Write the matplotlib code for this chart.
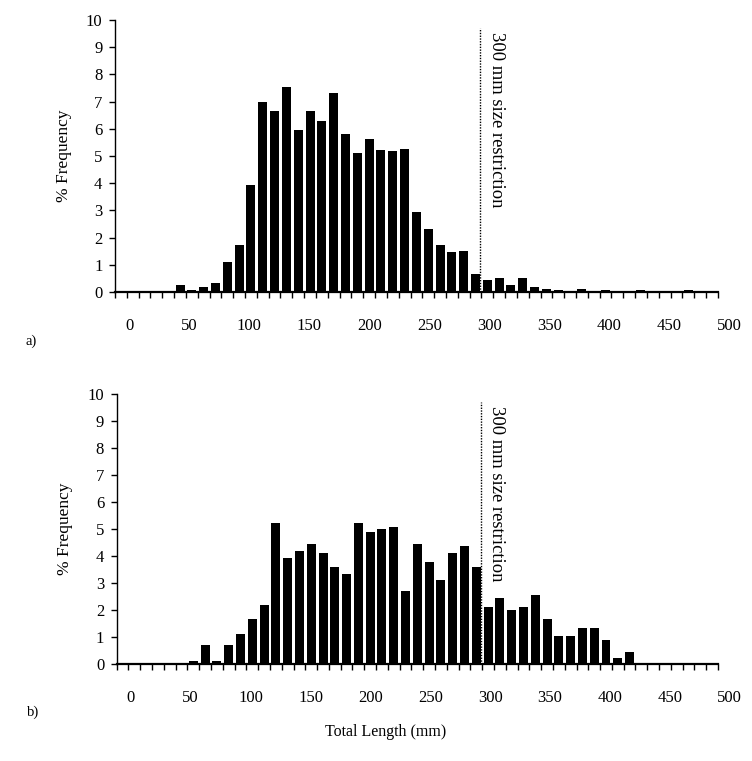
import matplotlib
matplotlib.use('Agg')
import matplotlib.pyplot as plt
import numpy as np

plt.rcParams['font.family'] = ['Liberation Serif', 'DejaVu Serif']

# % frequency per 10 mm length class (51 classes)
freq_a = [0, 0, 0, 0, 0, 0.25, 0.06, 0.18, 0.33, 1.10,
          1.72, 3.95, 7.00, 6.67, 7.52, 5.97, 6.67, 6.30, 7.33, 5.82,
          5.12, 5.63, 5.23, 5.19, 5.27, 2.94, 2.31, 1.72, 1.46, 1.50,
          0.65, 0.43, 0.52, 0.25, 0.52, 0.18, 0.10, 0.06, 0.02, 0.10,
          0, 0.06, 0.02, 0, 0.06, 0, 0, 0, 0.06, 0, 0]
freq_b = [0, 0, 0, 0, 0, 0, 0.12, 0.72, 0.12, 0.72,
          1.12, 1.68, 2.19, 5.23, 3.93, 4.19, 4.45, 4.12, 3.60, 3.34,
          5.23, 4.90, 5.01, 5.08, 2.71, 4.45, 3.79, 3.12, 4.12, 4.38,
          3.60, 2.12, 2.45, 2.01, 2.12, 2.56, 1.68, 1.05, 1.05, 1.34,
          1.34, 0.90, 0.23, 0.46, 0, 0, 0, 0, 0, 0, 0]
length_labels = ['0', '50', '100', '150', '200', '250', '300', '350', '400', '450', '500']
size_limit_class = 30.9
restriction_text = '300 mm size restriction'

XMAX = 52.5  # a little room past the last class so the "500" label survives


def draw_panel(ax, freqs, panel_label):
    n = len(freqs)
    x = np.arange(n) + 0.5
    ax.bar(x, freqs, width=0.76, color='black', edgecolor='none')
    ax.set_xlim(0, XMAX)
    ax.set_ylim(0, 10)

    for side in ('top', 'right'):
        ax.spines[side].set_visible(False)
    ax.spines['bottom'].set_bounds(0, n)
    ax.spines['bottom'].set_linewidth(1.6)
    ax.spines['left'].set_linewidth(1.0)

    ax.set_yticks(range(0, 11))
    ax.tick_params(axis='y', direction='out', length=4, width=1, pad=5, labelsize=12)

    ax.set_xticks(np.arange(n + 1), minor=True)
    ax.set_xticks(1.2 + 5.08 * np.arange(len(length_labels)))
    ax.set_xticklabels(length_labels)
    ax.tick_params(axis='x', which='minor', direction='out', length=4.3, width=1)
    ax.tick_params(axis='x', which='major', length=0, pad=19, labelsize=12)

    ax.set_ylabel('% Frequency', fontsize=12.5)
    ax.yaxis.set_label_coords(-0.07, 0.5)

    ax.plot([size_limit_class, size_limit_class], [0, 9.72], color='black',
            linestyle=(0, (1, 1)), linewidth=1)
    ax.text(size_limit_class + 0.62, 9.55, restriction_text, rotation=270,
            ha='left', va='top', fontsize=13.4)

    ax.text(-0.145, -0.18, panel_label, transform=ax.transAxes, fontsize=10.5,
            ha='left', va='center')


fig = plt.figure(figsize=(7.52, 7.61), dpi=100)
ax_a = fig.add_axes([115 / 752, 1 - 292 / 761, XMAX * 11.82 / 752, 272 / 761])
ax_b = fig.add_axes([116.7 / 752, 1 - 664 / 761, XMAX * 11.79 / 752, 270 / 761])

draw_panel(ax_a, freq_a, 'a)')
draw_panel(ax_b, freq_b, 'b)')

fig.text(386 / 752, 1 - 732 / 761, 'Total Length (mm)', fontsize=11.5,
         ha='center', va='center')

fig.savefig('out.png', dpi=100)
